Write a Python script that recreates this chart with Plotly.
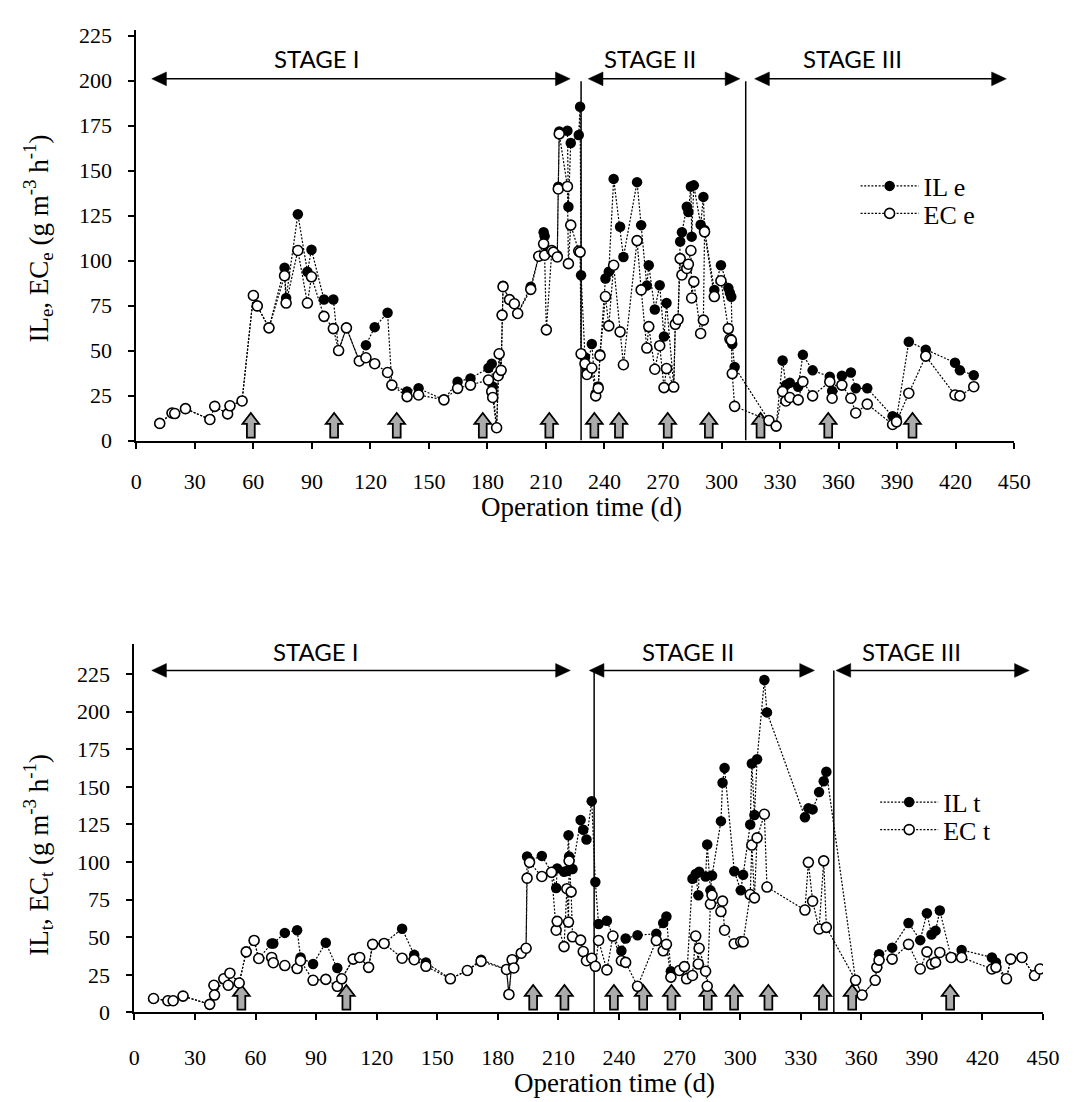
import plotly.graph_objects as go

W, H = 1075, 1102

# ---------------- data: top panel (IL e / EC e) ----------------
top_days = [12, 18.3, 19.7, 25.2, 37.7, 40.2, 46.8, 48, 54.2, 60, 62, 68, 76, 76.8, 82.8, 87.7, 89.8,
            96.2, 101, 103.7, 107.7, 114.3, 117.7, 122.2, 128.8, 131, 138.8, 144.7, 157.7, 164.7, 171.3,
            180.5, 182.2, 182.7, 184.7, 185.5, 186, 187, 187.5, 188, 191.3, 193.8, 195.5, 202.2, 206.3,
            208.8, 209.3, 210.2, 213, 213.8, 215.8, 216.3, 216.8, 221, 221.5, 222.7, 226.8, 227.5, 228,
            230, 231, 233.5, 235.5, 236.8, 237.7, 240.5, 242.2, 244.7, 248, 249.7, 256.7, 258.8, 261.7,
            262.7, 265.8, 268.3, 270.5, 271.8, 275.5, 276.3, 277.7, 278.8, 279.7, 282.2, 283, 284.3,
            284.7, 285.8, 289.3, 290.7, 291.3, 296.3, 299.7, 303.5, 304.3, 305, 305.5, 306.7, 324.3,
            328, 331.3, 333, 335, 339.3, 341.7, 346.7, 355.5, 356.7, 361.7, 366.3, 368.8, 374.7, 387.7,
            389.7, 396, 404.7, 419.7, 422.2, 429.3]
top_il = [9.5, 15.3, 15, 17.7, 11.7, 19, 14.8, 19.3, 22, 80.6, 74.8, 62.6, 96, 79.2, 125.7, 93.8, 106,
          78.4, 78.4, 50, 62.6, 44.2, 53, 63, 71, 30.8, 27.2, 29, 22.6, 32.7, 34.5,
          40.3, 42.7, 30, 7.1, 36, 48.2, 39, 69.7, 86, 78.3, 76, 70.6, 85.5, 102.4,
          115.7, 113.5, 104, 105.6, 104.7, 103, 141, 171.8, 172.2, 129.9, 165.3, 169.8, 185.5, 91.8,
          46.3, 40, 53.6, 26, 30, 48, 90, 93.8, 145.4, 118.8, 102, 143.6, 119.7, 86.1,
          97.4, 72.8, 86.3, 57.8, 76.4, 30, 65, 67.5, 110.6, 115.7, 129.9, 127, 141.2,
          113.3, 141.8, 119.9, 135.4, 117, 83.7, 97.4, 84.7, 82, 79.9, 53.6, 40.9, 11.1,
          8, 44.5, 30.8, 32.1, 29.9, 47.6, 39, 35.4, 27.5, 36, 37.8, 29, 29, 13.5,
          12.2, 54.9, 50.5, 43.2, 39, 36.3]
top_ec = [9.5, 15.3, 15, 17.7, 11.7, 19, 14.8, 19.3, 22, 80.6, 74.8, 62.6, 91.6, 76.4, 105.6, 76.4, 91,
          69, 62.2, 50, 62.6, 44.2, 46, 42.7, 37.8, 30.8, 24.4, 25.3, 22.6, 29, 30.8,
          33.6, 27.2, 23.9, 7.1, 36, 48.2, 39, 69.7, 85.5, 78.3, 76, 70.6, 84, 102.4,
          109.3, 103, 61.5, 105.6, 104.7, 102, 139.8, 170.4, 141.2, 98.3, 119.7, 105.3, 104.7, 48.2,
          42.7, 36.7, 40.3, 24.8, 29, 47.2, 80, 63.7, 97.4, 60.4, 42.1, 111.1, 83.7, 51.4,
          63.3, 39.6, 52.7, 29.4, 40, 29.7, 64.6, 67.3, 101.1, 92, 95.6, 98, 105.6,
          79.2, 88.3, 59.5, 66.9, 116, 80, 88.8, 62.2, 56.4, 55.8, 37.2, 19, 11.1,
          8, 27.2, 22, 23.9, 22.6, 32.7, 24.8, 32.7, 23.5, 30.8, 23.5, 15.3, 20.2, 8.9,
          10.4, 26.3, 46.9, 25.3, 24.8, 29.9]

# ---------------- data: bottom panel (IL t / EC t) ----------------
bot_days = [9.5, 16.6, 19.2, 24.1, 37.3, 39.4, 39.7, 44.3, 46.5, 47.3, 51.9, 55.4, 59.3, 61.6, 68, 68.8,
            74.5, 80.6, 82.3, 88.5, 94.8, 100.5, 102.7, 108.4, 111.6, 116, 118, 123.7, 132.6, 138.6,
            144.4, 156.5, 164.9, 171.7, 184.3, 185.5, 187.1, 187.9, 191.6, 194, 194.5, 195.7, 201.8,
            206.6, 208.9, 209.4, 212.8, 214.2, 215, 215.3, 216.3, 217, 221, 222.3, 223.9, 226.5,
            228.3, 229.9, 234, 237, 241.2, 243.3, 249.2, 258.5, 261.9, 263.5, 265.7, 269.9, 272.4,
            273.5, 276.4, 278, 279.3, 279.7, 282.9, 283.7, 285.3, 286.1, 290.5, 291.3, 292.3, 297.1,
            300.3, 301.5, 305, 305.8, 307.1, 308.4, 312, 313.3, 332.1, 333.8, 335.9, 339.1, 341.4,
            342.7, 357.2, 360.4, 366.9, 367.7, 368.8, 375.3, 383.4, 389.2, 392.5, 394.8, 396.8, 398.9,
            404.5, 409.7, 424.7, 426.7, 431.9, 434, 439.6, 445.8, 448.5]
bot_il = [9.3, 7.8, 7.8, 10.9, 5.4, 18.1, 11.6, 22.4, 18.1, 26.1, 19.6, 40.3, 47.9, 35.9, 45.9, 45.9,
          52.9, 54.7, 36.6, 32.2, 46.4, 29.6, 22.4, 35.5, 36.6, 30, 45.3, 45.9, 55.7, 38.3,
          33.3, 22.4, 27.9, 35.1, 28.6, 12, 35.1, 29.6, 39.4, 42.7, 103.7, 101, 104.1,
          93.2, 82.8, 95.8, 93.6, 94, 117.8, 103.7, 95.4, 95.4, 128, 121.5, 115, 140.5,
          86.7, 58.8, 61, 50.8, 41, 49.2, 51.4, 52.3, 59.5, 63.8, 27.4, 27.9, 30.5,
          22.4, 88.9, 92.1, 77.9, 93.6, 90.4, 111.7, 81.2, 91, 127.2, 152.7, 162.5, 93.9,
          81.2, 91.5, 125, 165.5, 131.3, 168.4, 221, 199.5, 129.8, 135.7, 135, 146.5, 153.7,
          160, 21.4, 11.6, 21.4, 30, 38.7, 43.1, 59.5, 48.1, 66, 51.8, 54.4, 67.8,
          36.6, 41.6, 36.6, 33.3, 22.4, 35.5, 36.6, 24.6, 28.9]
bot_ec = [9.3, 7.8, 7.8, 10.9, 5.4, 18.1, 11.6, 22.4, 18.1, 26.1, 19.6, 40.3, 47.9, 35.9, 36.6, 33.1,
          31.2, 29.2, 34.4, 21.4, 22, 17.4, 22.4, 35.5, 36.6, 30, 45.3, 45.9, 36.1, 35.1,
          30.7, 22.4, 27.9, 34, 28.6, 12, 35.1, 29.6, 39.4, 42.7, 89.3, 99.8, 90.4,
          93.2, 54.7, 60.6, 43.8, 82.3, 60.1, 100.8, 80.2, 50.3, 48.1, 40.5, 34.4, 36.1,
          30.7, 47.9, 28.3, 50.8, 34.4, 33.3, 17.4, 47.9, 41, 45.3, 23.5, 27.9, 30.5,
          22.4, 24.6, 50.8, 32.2, 42.7, 27.4, 17.4, 72.1, 77.9, 67.1, 74, 54.7, 45.7,
          47, 47, 78.4, 111.3, 76.2, 116.1, 131.8, 83.4, 68.1, 99.8, 74, 55.5, 100.8,
          56.6, 21.4, 11.6, 21.4, 30, 34.8, 35.5, 45.3, 28.9, 40.3, 32.2, 33.3, 39.9,
          36.6, 36.6, 28.9, 30, 22.4, 35.5, 36.6, 24.6, 28.9]

# event arrows (days) and stage definitions
top_event_days = [58.7, 101.4, 133.5, 177.6, 211.7, 234.8, 247.4, 272.4, 293.5, 320, 354.7, 397.9]
bot_event_days = [53, 105, 197.5, 213, 237.5, 252, 266, 284, 297, 314, 341, 355.5, 404]

stage_names = ["STAGE I", "STAGE II", "STAGE III"]
top_stage_spans = [(7.9, 222.4), (231.7, 309.4), (317, 446)]
top_stage_label_x = [92.8, 263.4, 367.3]
top_stage_bounds = [228, 312.4]
bot_stage_spans = [(8.6, 215.9), (225.3, 336.8), (347.5, 443.2)]
bot_stage_label_x = [90.1, 274.3, 385.1]
bot_stage_bounds = [227.7, 346.4]

x_ticks = list(range(0, 451, 30))

# ---------------- layout geometry (pixels) ----------------
TOP = dict(x0=125, x1=1022, y0=16, y1=434, ymax=228.3, arrow_y=201, bound_top=199.7, label_y=212.5)
BOT = dict(x0=123, x1=1051.5, y0=641, y1=1016, ymax=245, arrow_y=227.4, bound_top=227.4, label_y=240.2)
for P in (TOP, BOT):
    P["kx"] = (P["x1"] - P["x0"]) / 450.0
    P["ky"] = (P["y1"] - P["y0"]) / P["ymax"]

SERIF = "Liberation Serif"
dash = "2px,1.6px"

fig = go.Figure()
fig.add_trace(go.Scatter(x=top_days, y=top_il, name="IL e", mode="lines+markers",
                         xaxis="x", yaxis="y", legend="legend",
                         line=dict(color="black", width=1.2, dash=dash),
                         marker=dict(symbol="circle", size=10.5, color="black")))
fig.add_trace(go.Scatter(x=top_days, y=top_ec, name="EC e", mode="lines+markers",
                         xaxis="x", yaxis="y", legend="legend2",
                         line=dict(color="black", width=1.2, dash=dash),
                         marker=dict(symbol="circle", size=10, color="white",
                                     line=dict(color="black", width=1.6))))
fig.add_trace(go.Scatter(x=bot_days, y=bot_il, name="IL t", mode="lines+markers",
                         xaxis="x2", yaxis="y2", legend="legend3",
                         line=dict(color="black", width=1.2, dash=dash),
                         marker=dict(symbol="circle", size=10.5, color="black")))
fig.add_trace(go.Scatter(x=bot_days, y=bot_ec, name="EC t", mode="lines+markers",
                         xaxis="x2", yaxis="y2", legend="legend4",
                         line=dict(color="black", width=1.2, dash=dash),
                         marker=dict(symbol="circle", size=10, color="white",
                                     line=dict(color="black", width=1.6))))

shapes = []
annotations = []


def block_arrow(day, P, xref, yref):
    kx, ky = P["kx"], P["ky"]
    pts = [(-4, 3), (4, 3), (4, 17), (8.5, 17), (0, 28), (-8.5, 17), (-4, 17)]
    path = "M " + " L ".join(f"{day + px / kx:.4f},{py / ky:.4f}" for px, py in pts) + " Z"
    return dict(type="path", path=path, xref=xref, yref=yref, layer="below",
                fillcolor="#ababab", line=dict(color="black", width=1.8))


def stage_arrow(a, b, y, P, xref, yref):
    kx, ky = P["kx"], P["ky"]
    hl, hw = 15 / kx, 7 / ky
    out = [dict(type="line", x0=a + hl * 0.5, x1=b - hl * 0.5, y0=y, y1=y, xref=xref, yref=yref,
                line=dict(color="black", width=1.5))]
    out.append(dict(type="path", xref=xref, yref=yref, fillcolor="black", line=dict(color="black", width=0.5),
                    path=f"M {a},{y} L {a + hl},{y + hw} L {a + hl},{y - hw} Z"))
    out.append(dict(type="path", xref=xref, yref=yref, fillcolor="black", line=dict(color="black", width=0.5),
                    path=f"M {b},{y} L {b - hl},{y + hw} L {b - hl},{y - hw} Z"))
    return out


for P, xr, yr, ev, spans, lx, bounds in (
        (TOP, "x", "y", top_event_days, top_stage_spans, top_stage_label_x, top_stage_bounds),
        (BOT, "x2", "y2", bot_event_days, bot_stage_spans, bot_stage_label_x, bot_stage_bounds)):
    for d in ev:
        shapes.append(block_arrow(d, P, xr, yr))
    for d in bounds:
        shapes.append(dict(type="line", xref=xr, yref=yr, x0=d, x1=d, y0=0, y1=P["bound_top"],
                           layer="below", line=dict(color="black", width=1.5)))
    for (a, b), name, cx in zip(spans, stage_names, lx):
        shapes.extend(stage_arrow(a, b, P["arrow_y"], P, xr, yr))
        annotations.append(dict(text=name, x=cx, y=P["label_y"], xref=xr, yref=yr, showarrow=False,
                                xanchor="center", yanchor="middle",
                                font=dict(family="Lato", size=24, color="black")))

# axis titles
title_font = dict(family=SERIF, size=27, color="black")
annotations += [
    dict(text="IL<sub>e</sub>, EC<sub>e</sub> (g m<sup>-3</sup> h<sup>-1</sup>)", textangle=-90,
         x=25 / W, y=1 - 228 / H, xref="paper", yref="paper", showarrow=False,
         xanchor="center", yanchor="middle", font=title_font),
    dict(text="IL<sub>t</sub>, EC<sub>t</sub> (g m<sup>-3</sup> h<sup>-1</sup>)", textangle=-90,
         x=25 / W, y=1 - 855 / H, xref="paper", yref="paper", showarrow=False,
         xanchor="center", yanchor="middle", font=title_font),
    dict(text="Operation time (d)", x=580 / W, y=1 - 502 / H, xref="paper", yref="paper",
         showarrow=False, xanchor="center", yanchor="middle", font=title_font),
    dict(text="Operation time (d)", x=614 / W, y=1 - 1088 / H, xref="paper", yref="paper",
         showarrow=False, xanchor="center", yanchor="middle", font=title_font),
]

tickfont = dict(family=SERIF, size=22, color="black")


def xaxis(P, anchor, standoff):
    return dict(domain=[P["x0"] / W, P["x1"] / W], range=[0, 450], anchor=anchor,
                tickmode="array", tickvals=x_ticks, ticks="outside", ticklen=6, tickwidth=1.5,
                tickcolor="black", showline=True, linecolor="black", linewidth=2,
                showgrid=False, zeroline=False, tickfont=tickfont, ticklabelstandoff=standoff)


def yaxis(P, anchor):
    return dict(domain=[1 - P["y1"] / H, 1 - P["y0"] / H], range=[0, P["ymax"]], anchor=anchor,
                tick0=0, dtick=25, ticks="outside", ticklen=6, tickwidth=1.5, tickcolor="black",
                showline=True, linecolor="black", linewidth=2, showgrid=False, zeroline=False,
                tickfont=tickfont, ticklabelstandoff=12)


legend_font = dict(family=SERIF, size=26, color="black")


def legend(xpx, ypx):
    return dict(x=xpx / W, y=1 - ypx / H, xanchor="left", yanchor="middle", font=legend_font,
                bgcolor="rgba(0,0,0,0)", borderwidth=0, itemwidth=58, tracegroupgap=0)


fig.update_layout(
    width=W, height=H, margin=dict(l=0, r=0, t=0, b=0, pad=0),
    paper_bgcolor="white", plot_bgcolor="white",
    xaxis=xaxis(TOP, "y", 14), yaxis=yaxis(TOP, "x"),
    xaxis2=xaxis(BOT, "y2", 18), yaxis2=yaxis(BOT, "x2"),
    legend=legend(860, 175), legend2=legend(860, 203),
    legend3=legend(880, 802), legend4=legend(880, 830),
    shapes=shapes, annotations=annotations, showlegend=True,
)

fig.write_html("out.html")
